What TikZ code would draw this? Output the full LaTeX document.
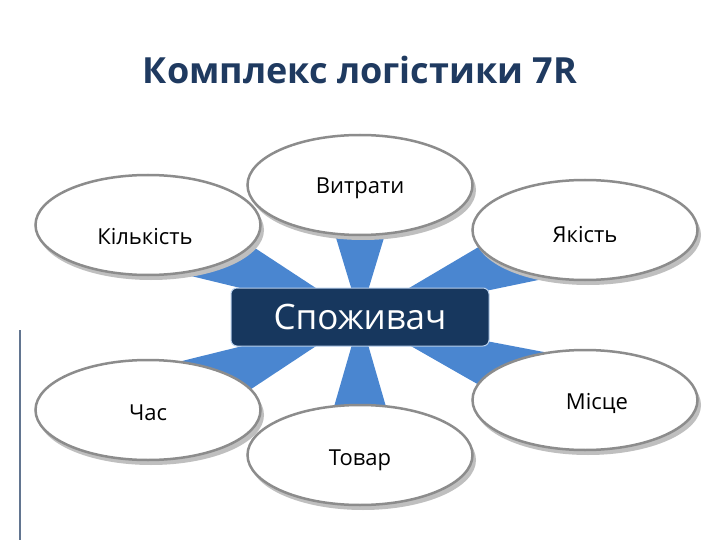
\documentclass[tikz,border=0pt]{standalone}
\usepackage{fontspec}
\setmainfont{Open Sans}
\usetikzlibrary{shapes.geometric,calc}
\definecolor{navy}{HTML}{17375E}
\definecolor{wedge}{HTML}{4A86D0}
\definecolor{titlec}{HTML}{1F3A60}
\definecolor{rim}{HTML}{8C8C8C}
\begin{document}
\begin{tikzpicture}[x=1pt,y=-1pt,
  oval/.style={ellipse, draw=rim, line width=2.5pt, fill=white, minimum width=225pt, minimum height=100pt, inner sep=0pt},
  lbl/.style={font=\fontsize{22}{26}\selectfont, text=black},
  core/.style={rounded corners=6pt, fill=navy, draw=wedge!40, line width=1pt, minimum width=258pt, minimum height=58pt, text=white, font=\fontsize{35}{40}\selectfont}]
\useasboundingbox (0,0) rectangle (720,540);
\fill[white] (0,0) rectangle (720,540);
\node[font=\bfseries\fontsize{36}{42}\selectfont, text=titlec] (title) at (360,70) {Комплекс логістики 7R};
\draw[color=titlec!70, line width=2pt] (20,330) -- (20,540);
\coordinate (c) at (360,317);
\foreach \x/\y/\n in {360/185/a,148/225/b,585/230/d,148/410/e,585/400/f,360/455/g}{
  \coordinate (\n) at (\x,\y);
  \fill[wedge] (c) -- ($(\n)!40pt!90:(c)$) -- ($(\n)!40pt!-90:(c)$) -- cycle;
}
\foreach \n in {a,b,d,e,f,g}{
  \fill[black!25] ($(\n)+(3,5)$) ellipse (113pt and 50pt);
  \node[oval] (o\n) at (\n) {};
}
\node[lbl] (ta) at (360,188) {Витрати};
\node[lbl] (tb) at (145,237) {Кількість};
\node[lbl] (td) at (585,235) {Якість};
\node[lbl] (te) at (148,413) {Час};
\node[lbl] (tf) at (597,403) {Місце};
\node[lbl] (tg) at (360,460) {Товар};
\node[core] (core) at (c) {Споживач};
\end{tikzpicture}
\end{document}
